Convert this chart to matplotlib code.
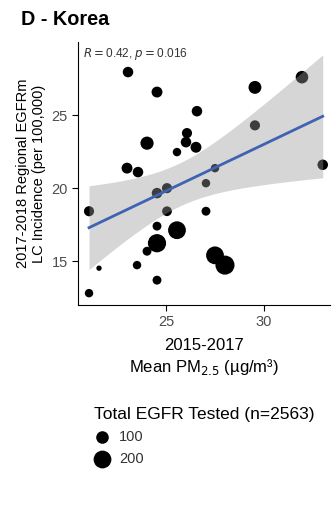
import numpy as np
import matplotlib
matplotlib.use("Agg")
import matplotlib.pyplot as plt

plt.rcParams['font.family'] = ['Liberation Sans', 'DejaVu Sans']

# Korea regions: mean PM2.5 (2015-2017), EGFRm LC incidence (2017-2018), patients tested
pm25 = [23.06, 24.54, 29.54, 31.94, 26.58, 29.54, 33.0, 24.03, 26.07, 26.02,
        26.53, 25.56, 23.01, 23.57, 24.54, 25.05, 27.04, 27.5, 25.05, 27.04,
        24.54, 25.56, 24.54, 24.03, 23.52, 24.54, 27.5, 28.01, 21.07, 21.58,
        21.07]
incidence = [27.95, 26.58, 26.9, 27.6, 25.27, 24.3, 21.6, 23.08, 23.77, 23.15,
             22.8, 22.47, 21.37, 21.1, 19.66, 20.0, 20.34, 21.37, 18.42, 18.42,
             17.4, 17.12, 16.23, 15.68, 14.73, 13.7, 15.4, 14.73, 18.42, 14.52,
             12.81]
n_tested = [70, 75, 105, 100, 70, 65, 70, 110, 65, 70,
            75, 45, 75, 70, 70, 65, 45, 45, 60, 50,
            50, 200, 210, 50, 45, 50, 200, 230, 65, 18,
            45]

legend_sizes = [100, 200]
annot = r"$R = $0.42, $p = $0.016"

x = np.array(pm25)
y = np.array(incidence)
n = np.array(n_tested)
size_k = 0.82  # points^2 per patient

fig = plt.figure(figsize=(3.35, 5.2), dpi=100)
ax = fig.add_axes([0.233, 0.4135, 0.752, 0.5055])

ax.scatter(x, y, s=n * size_k, color='black', linewidths=0, zorder=2)

# linear fit with 95% confidence band
slope, intercept = np.polyfit(x, y, 1)
xs = np.linspace(x.min(), x.max(), 100)
ys = intercept + slope * xs
resid = y - (intercept + slope * x)
dof = len(x) - 2
se = np.sqrt(np.sum(resid ** 2) / dof)
t_crit = 2.045
half = t_crit * se * np.sqrt(1 / len(x) + (xs - x.mean()) ** 2 / np.sum((x - x.mean()) ** 2))
ax.fill_between(xs, ys - half, ys + half, color='#999999', alpha=0.4, linewidth=0, zorder=3)
ax.plot(xs, ys, color='#3f63b3', linewidth=2, zorder=4)

ax.set_xlim(20.51, 33.37)
ax.set_ylim(12.0, 30.0)
ax.set_xticks([25, 30])
ax.set_yticks([15, 20, 25])
ax.spines['top'].set_visible(False)
ax.spines['right'].set_visible(False)
ax.tick_params(labelsize=10.5, labelcolor='#4d4d4d', length=4, width=0.8)

ax.text(0.02, 0.985, annot, transform=ax.transAxes, fontsize=8.5,
        color='#333333', va='top', ha='left')

ax.set_xlabel("2015-2017\nMean PM$_{2.5}$ (µg/m³)", fontsize=12, labelpad=6, linespacing=1.3)
ax.set_ylabel("2017-2018 Regional EGFRm\nLC Incidence (per 100,000)", fontsize=10.5, labelpad=4)

fig.text(0.062, 0.962, "D - Korea", fontsize=14.3, fontweight='bold', va='center', ha='left')

handles = [ax.scatter([], [], s=v * size_k, color='black', linewidths=0) for v in legend_sizes]
leg = fig.legend(handles, [str(v) for v in legend_sizes], title="Total EGFR Tested (n=2563)",
                 loc='upper left', bbox_to_anchor=(0.26, 0.232), frameon=False,
                 fontsize=10.5, title_fontsize=12.5, alignment='left',
                 handletextpad=0.7, labelspacing=0.55, borderpad=0, handlelength=1.0)
for t in leg.get_texts():
    t.set_color('#333333')

fig.savefig("out.png", dpi=100)
